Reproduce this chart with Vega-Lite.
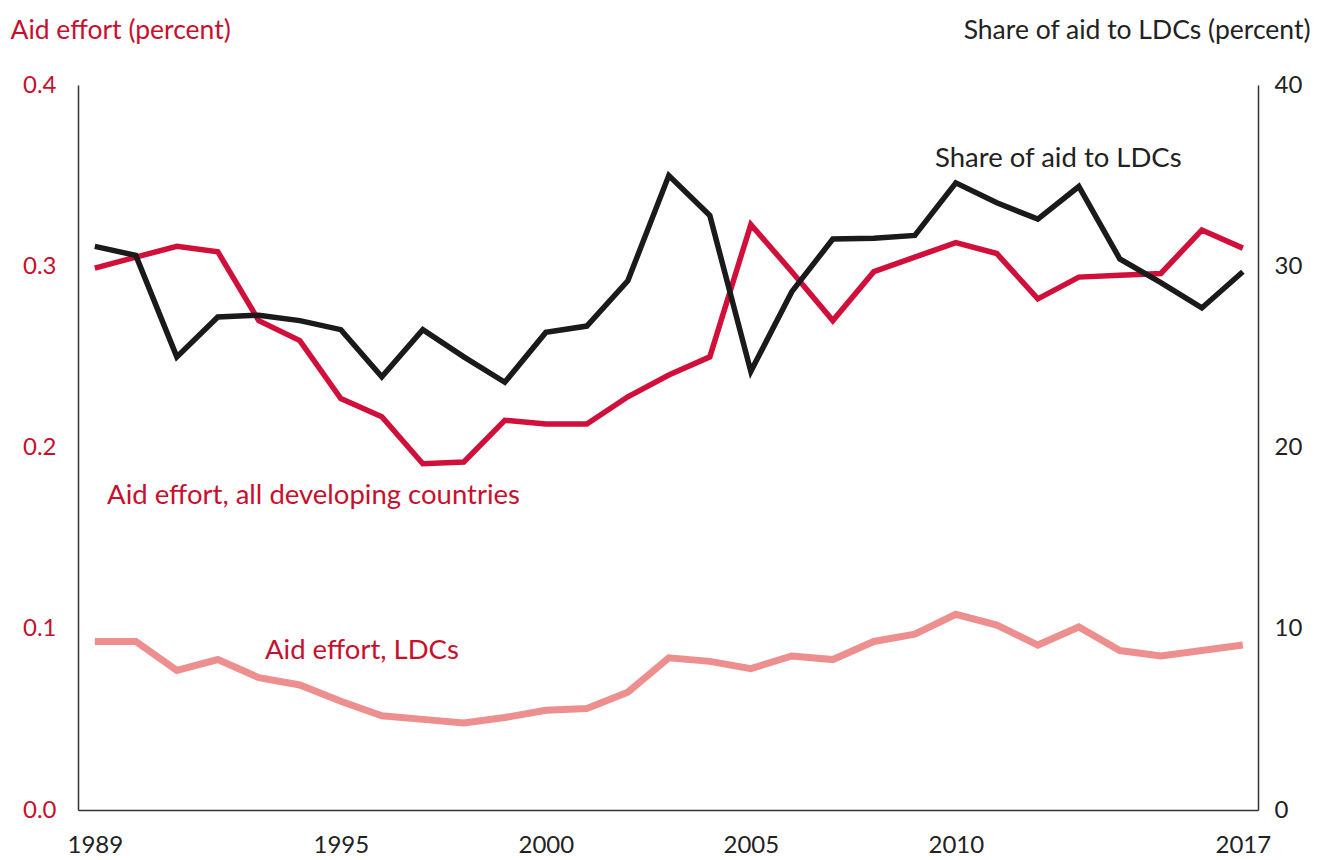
{
  "$schema": "https://vega.github.io/schema/vega-lite/v6.json",
  "autosize": "none",
  "width": 1180,
  "height": 725,
  "padding": {"left": 78, "top": 85, "right": 62, "bottom": 50},
  "background": "white",
  "config": {
    "view": {"stroke": null},
    "font": "Lato",
    "text": {"font": "Lato"},
    "axis": {"labelFont": "Lato", "titleFont": "Lato", "grid": false, "ticks": false}
  },
  "datasets": {
    "series": [
      {"year": 1989, "all": 0.299, "ldc": 0.093, "share": 31.1},
      {"year": 1990, "all": 0.305, "ldc": 0.093, "share": 30.6},
      {"year": 1991, "all": 0.311, "ldc": 0.077, "share": 25.0},
      {"year": 1992, "all": 0.308, "ldc": 0.083, "share": 27.2},
      {"year": 1993, "all": 0.270, "ldc": 0.073, "share": 27.3},
      {"year": 1994, "all": 0.259, "ldc": 0.069, "share": 27.0},
      {"year": 1995, "all": 0.227, "ldc": 0.060, "share": 26.5},
      {"year": 1996, "all": 0.217, "ldc": 0.052, "share": 23.9},
      {"year": 1997, "all": 0.191, "ldc": 0.050, "share": 26.5},
      {"year": 1998, "all": 0.192, "ldc": 0.048, "share": 25.0},
      {"year": 1999, "all": 0.215, "ldc": 0.051, "share": 23.6},
      {"year": 2000, "all": 0.213, "ldc": 0.055, "share": 26.35},
      {"year": 2001, "all": 0.213, "ldc": 0.056, "share": 26.7},
      {"year": 2002, "all": 0.228, "ldc": 0.065, "share": 29.2},
      {"year": 2003, "all": 0.240, "ldc": 0.084, "share": 35.0},
      {"year": 2004, "all": 0.250, "ldc": 0.082, "share": 32.8},
      {"year": 2005, "all": 0.323, "ldc": 0.078, "share": 24.2},
      {"year": 2006, "all": 0.297, "ldc": 0.085, "share": 28.6},
      {"year": 2007, "all": 0.270, "ldc": 0.083, "share": 31.5},
      {"year": 2008, "all": 0.297, "ldc": 0.093, "share": 31.55},
      {"year": 2009, "all": 0.305, "ldc": 0.097, "share": 31.7},
      {"year": 2010, "all": 0.313, "ldc": 0.108, "share": 34.6},
      {"year": 2011, "all": 0.307, "ldc": 0.102, "share": 33.5},
      {"year": 2012, "all": 0.282, "ldc": 0.091, "share": 32.6},
      {"year": 2013, "all": 0.294, "ldc": 0.101, "share": 34.4},
      {"year": 2014, "all": 0.295, "ldc": 0.088, "share": 30.4},
      {"year": 2015, "all": 0.296, "ldc": 0.085, "share": 29.1},
      {"year": 2016, "all": 0.320, "ldc": 0.088, "share": 27.7},
      {"year": 2017, "all": 0.310, "ldc": 0.091, "share": 29.7}
    ],
    "leftLabels": [
      {"label": "Aid effort, all developing countries", "year": 1989.3, "v": 0.173},
      {"label": "Aid effort, LDCs", "year": 1993.15, "v": 0.0875}
    ],
    "rightLabels": [
      {"label": "Share of aid to LDCs", "year": 2012.5, "v": 35.9}
    ]
  },
  "encoding": {
    "x": {
      "field": "year", "type": "quantitative",
      "scale": {"domain": [1988.59, 2017.37], "nice": false, "zero": false},
      "axis": {
        "title": null, "values": [1989, 1995, 2000, 2005, 2010, 2017], "format": "d",
        "domainColor": "#333333", "domainWidth": 1.5, "labelFontSize": 24, "labelColor": "#222222",
        "labelPadding": 23, "labelFlush": false
      }
    }
  },
  "layer": [
    {
      "layer": [
        {
          "data": {"name": "series"},
          "mark": {"type": "line", "color": "#ee8f8f", "strokeWidth": 7},
          "encoding": {
            "y": {
              "field": "ldc", "type": "quantitative",
              "scale": {"domain": [0, 0.4], "nice": false},
              "axis": {
                "orient": "left", "values": [0, 0.1, 0.2, 0.3, 0.4], "format": ".1f",
                "domainColor": "#333333", "domainWidth": 1.5,
                "labelFontSize": 24, "labelColor": "#c8102e", "labelPadding": 22,
                "title": "Aid effort (percent)", "titleColor": "#c8102e", "titleFontSize": 26.5,
                "titleFontWeight": "normal", "titleAngle": 0, "titleAlign": "left", "titleBaseline": "middle",
                "titleX": -68, "titleY": -55
              }
            }
          }
        },
        {
          "data": {"name": "series"},
          "mark": {"type": "line", "color": "#d0103a", "strokeWidth": 5.5},
          "encoding": {"y": {"field": "all", "type": "quantitative"}}
        },
        {
          "data": {"name": "leftLabels"},
          "mark": {"type": "text", "align": "left", "baseline": "middle", "color": "#c8102e", "fontSize": 27.5, "font": "Lato"},
          "encoding": {
            "y": {"field": "v", "type": "quantitative"},
            "text": {"field": "label"}
          }
        }
      ]
    },
    {
      "layer": [
        {
          "data": {"name": "series"},
          "mark": {"type": "line", "color": "#1a1a1a", "strokeWidth": 5.5},
          "encoding": {
            "y": {
              "field": "share", "type": "quantitative",
              "scale": {"domain": [0, 40], "nice": false},
              "axis": {
                "orient": "right", "values": [0, 10, 20, 30, 40], "format": "d",
                "domainColor": "#333333", "domainWidth": 1.5,
                "labelFontSize": 24, "labelColor": "#222222", "labelPadding": 16,
                "title": "Share of aid to LDCs (percent)", "titleColor": "#222222", "titleFontSize": 26.5,
                "titleFontWeight": "normal", "titleAngle": 0, "titleAlign": "right", "titleBaseline": "middle",
                "titleX": 52, "titleY": -55
              }
            }
          }
        },
        {
          "data": {"name": "rightLabels"},
          "mark": {"type": "text", "align": "center", "baseline": "middle", "color": "#222222", "fontSize": 27.5, "font": "Lato"},
          "encoding": {
            "y": {"field": "v", "type": "quantitative"},
            "text": {"field": "label"}
          }
        }
      ]
    }
  ],
  "resolve": {"scale": {"y": "independent"}}
}
